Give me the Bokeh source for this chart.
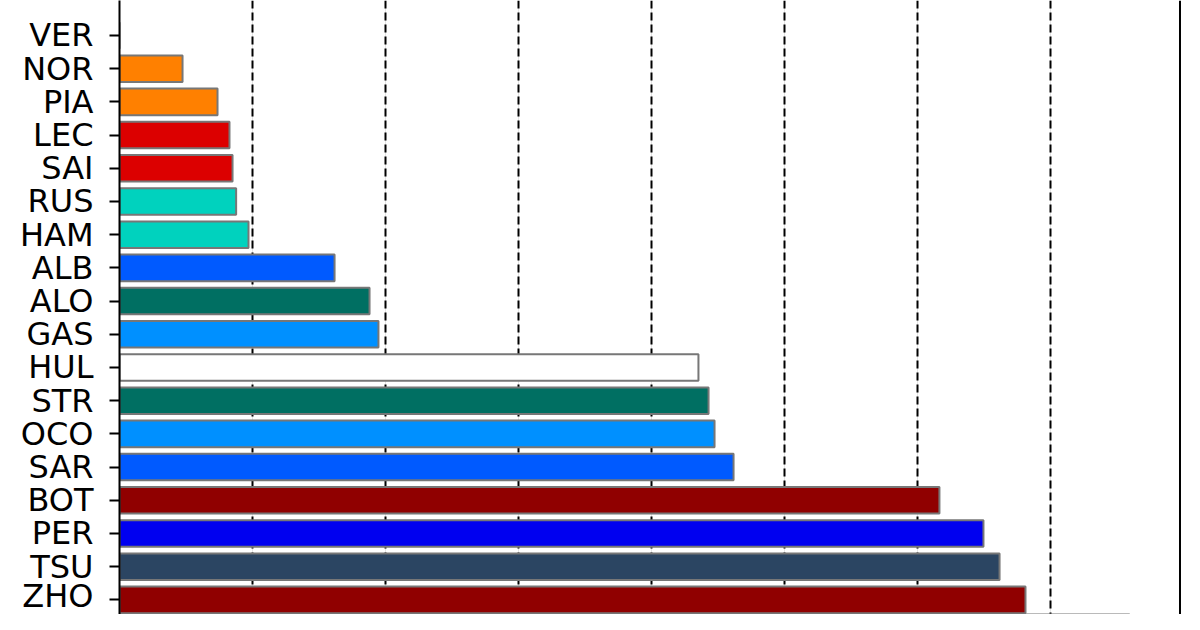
from bokeh.plotting import figure
from bokeh.models import Range1d, FixedTicker, SingleIntervalTicker, Grid, Span, ColumnDataSource
from bokeh.embed import file_html
from bokeh.resources import INLINE

drivers = ["VER", "NOR", "PIA", "LEC", "SAI", "RUS", "HAM", "ALB", "ALO", "GAS",
           "HUL", "STR", "OCO", "SAR", "BOT", "PER", "TSU", "ZHO", "DEV"]
gaps = [0.0, 0.0474, 0.0737, 0.0827, 0.0850, 0.0877, 0.0970, 0.1617, 0.1880, 0.1947,
        0.4353, 0.4429, 0.4474, 0.4617, 0.6165, 0.6496, 0.6617, 0.6812, 0.7594]
colors = ["#1E41FF", "#FF8000", "#FF8000", "#DC0000", "#DC0000", "#00D2BE", "#00D2BE",
          "#005AFF", "#006F62", "#0090FF", "#FFFFFF", "#006F62", "#0090FF", "#005AFF",
          "#900000", "#0000F0", "#2B4562", "#900000", "#2B4562"]

idx = list(range(len(drivers)))
src = ColumnDataSource(dict(y=idx, right=gaps, color=colors, name=drivers))

xmax = max(gaps) * 1.05

p = figure(width=1184, height=614, output_backend="svg", toolbar_location=None,
           x_range=Range1d(0, 0.7985), y_range=Range1d(17.44, -1.054),
           x_axis_location=None, min_border_left=119, min_border_right=3,
           min_border_top=0, min_border_bottom=0)
p.outline_line_color = None
p.background_fill_color = "white"
p.border_fill_color = "white"

grid = Grid(dimension=0, ticker=SingleIntervalTicker(interval=0.1),
            grid_line_color="black", grid_line_width=2, grid_line_dash="8 4")
p.add_layout(grid)
p.ygrid.grid_line_color = None

p.hbar(y="y", left=0, right="right", height=0.8, fill_color="color",
       line_color="#777777", line_width=2, source=src)

p.add_layout(Span(location=xmax, dimension="height", line_color="black", line_width=2))

ax = p.yaxis[0]
ax.ticker = FixedTicker(ticks=idx)
ax.major_label_overrides = {i: d for i, d in zip(idx, drivers)}
ax.major_label_text_font = "DejaVu Sans"
ax.major_label_text_font_size = "32px"
ax.major_label_text_color = "black"
ax.major_label_standoff = 16
ax.major_tick_out = 10
ax.major_tick_in = 0
ax.major_tick_line_width = 2
ax.major_tick_line_color = "black"
ax.minor_tick_line_color = None
ax.axis_line_color = "black"
ax.axis_line_width = 2

open("out.html", "w").write(file_html(p, INLINE))
